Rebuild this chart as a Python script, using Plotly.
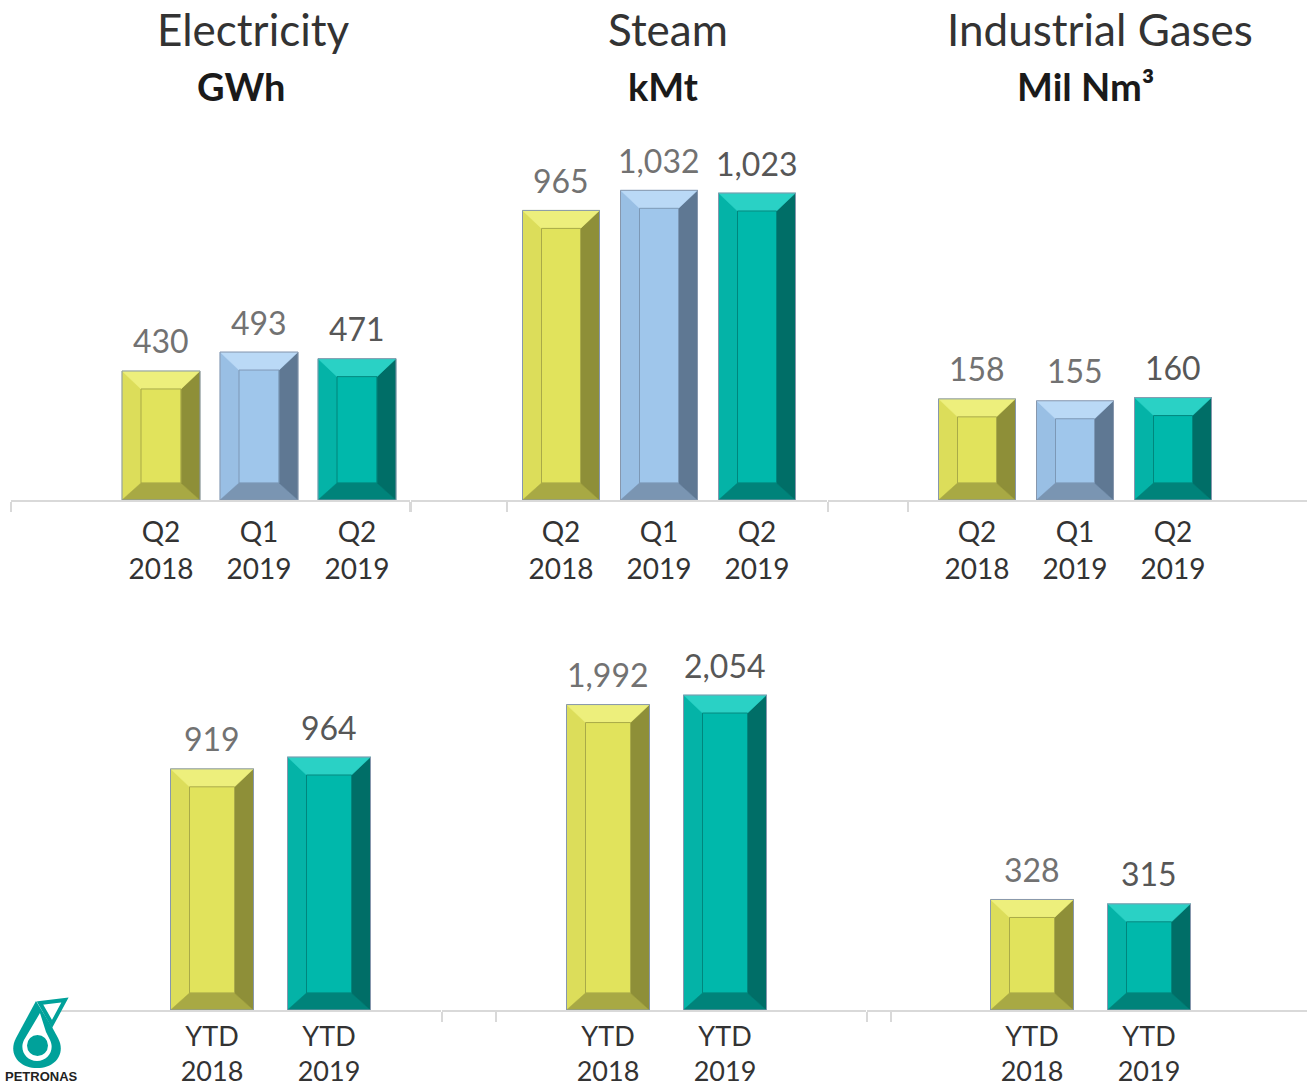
import plotly.graph_objects as go

# ---------------- data ----------------
q_labels = ["Q2<br>2018", "Q1<br>2019", "Q2<br>2019"]
ytd_labels = ["YTD<br>2018", "YTD<br>2019"]

elec_q = [430, 493, 471]
steam_q = [965, 1032, 1023]
gas_q = [158, 155, 160]

elec_ytd = [919, 964]
steam_ytd = [1992, 2054]
gas_ytd = [328, 315]

titles = ["Electricity", "Steam", "Industrial Gases"]
units = ["GWh", "kMt", "Mil Nm³"]

# ---------------- styling ----------------
W, H = 1307, 1089
PAL = {
    'y': dict(face='#e1e35c', top='#edef7c', left='#dcdd5a', right='#8e8f38', bottom='#a8a944', inner='#a9aa48'),
    'b': dict(face='#9fc6eb', top='#bad9f6', left='#99bfe4', right='#5f7893', bottom='#7a95b2', inner='#7c98b6'),
    't': dict(face='#00b8ab', top='#2ad1c5', left='#04b3a7', right='#006e67', bottom='#00837a', inner='#00867d'),
}
q_keys = ['y', 'b', 't']
ytd_keys = ['y', 't']

TOP = dict(base=500, top=130, standoff=7, fsize=28)
BOT = dict(base=1010, top=640, standoff=2, fsize=27)

panels = [
    dict(labels=q_labels, vals=elec_q, keys=q_keys, dom=(11, 410), c0=161, sp=98, bw=78, tk=[11, 410], row=TOP, ymax=1233),
    dict(labels=q_labels, vals=steam_q, keys=q_keys, dom=(411, 827), c0=561, sp=98, bw=77, tk=[411, 507], row=TOP, ymax=1233),
    dict(labels=q_labels, vals=gas_q, keys=q_keys, dom=(828, 1307), c0=977, sp=98, bw=77, tk=[828, 908], row=TOP, ymax=578),
    dict(labels=ytd_labels, vals=elec_ytd, keys=ytd_keys, dom=(45, 441), c0=212, sp=117, bw=83, tk=[], row=BOT, ymax=1410),
    dict(labels=ytd_labels, vals=steam_ytd, keys=ytd_keys, dom=(442, 866), c0=608, sp=117, bw=83, tk=[442, 496], row=BOT, ymax=2413),
    dict(labels=ytd_labels, vals=gas_ytd, keys=ytd_keys, dom=(867, 1307), c0=1032, sp=117, bw=83, tk=[867, 891], row=BOT, ymax=1098),
]

fig = go.Figure()
annotations = []
BEV_X = 19
BEV_T = 18
BEV_B = 17

for k, p in enumerate(panels, start=1):
    xa = 'x' if k == 1 else f'x{k}'
    ya = 'y' if k == 1 else f'y{k}'
    n = len(p['vals'])
    xs = list(range(n))
    vals = p['vals']
    hpx = p['row']['base'] - p['row']['top']
    bx = BEV_X / p['sp']
    bt = BEV_T * p['ymax'] / hpx
    bb = BEV_B * p['ymax'] / hpx
    wb = p['bw'] / p['sp']
    common = dict(xaxis=xa, yaxis=ya, showlegend=False, hoverinfo='skip')

    # main bars (face colour)
    fig.add_trace(go.Bar(x=xs, y=vals, width=[wb] * n, offset=[-wb / 2] * n,
                         marker=dict(color=[PAL[c]['face'] for c in p['keys']], line=dict(width=0)),
                         **common))

    # bevel facets derived from each bar's value
    for i, v in enumerate(vals):
        pal = PAL[p['keys'][i]]
        L, R, B, T = i - wb / 2, i + wb / 2, 0, v
        iL, iR, iB, iT = L + bx, R - bx, B + bb, T - bt
        facets = {
            'left': ([L, L, iL, iL], [B, T, iT, iB]),
            'bottom': ([L, R, iR, iL], [B, B, iB, iB]),
            'right': ([R, R, iR, iR], [B, T, iT, iB]),
            'top': ([L, R, iR, iL], [T, T, iT, iT]),
        }
        for role, (fx, fy) in facets.items():
            fig.add_trace(go.Scatter(x=fx + [fx[0]], y=fy + [fy[0]], mode='lines', fill='toself',
                                     fillcolor=pal[role], line=dict(width=0.5, color=pal[role]), **common))
        # inner panel outline
        fig.add_trace(go.Scatter(x=[iL, iR, iR, iL, iL], y=[iB, iB, iT, iT, iB], mode='lines',
                                 line=dict(width=1, color=pal['inner']), **common))
        # outer outline
        fig.add_trace(go.Scatter(x=[L, R, R, L, L], y=[B, B, T, T, B], mode='lines',
                                 line=dict(width=1, color='#8797ad'), **common))

    d0, d1 = p['dom']
    ydom = [1 - p['row']['base'] / H, 1 - p['row']['top'] / H]
    fig.update_layout(**{
        ('xaxis' if k == 1 else f'xaxis{k}'): dict(
            domain=[d0 / W, d1 / W],
            range=[(d0 - p['c0']) / p['sp'], (d1 - p['c0']) / p['sp']],
            anchor=ya, tickvals=xs, ticktext=p['labels'], ticks='',
            showline=True, linecolor='#d9d9d9', linewidth=1.5,
            showgrid=False, zeroline=False, fixedrange=True, automargin=False,
            tickfont=dict(family='Lato', size=p['row']['fsize'], color='#333333'),
            ticklabelstandoff=p['row']['standoff'],
            minor=dict(tickvals=[(t - p['c0']) / p['sp'] for t in p['tk']], ticks='outside',
                       ticklen=10, tickcolor='#d9d9d9', tickwidth=1.5, showgrid=False),
        ),
        ('yaxis' if k == 1 else f'yaxis{k}'): dict(
            domain=ydom, range=[0, p['ymax']], anchor=xa, visible=False, fixedrange=True,
            automargin=False,
        ),
    })

    for i, v in enumerate(vals):
        last = (i == n - 1)
        annotations.append(dict(
            x=i, y=v, xref=xa, yref=ya, text=f"{v:,}", showarrow=False,
            yanchor='middle', xanchor='center', yshift=30,
            font=dict(family='Lato', size=32, color='#575757' if last else '#727272'),
        ))

# titles & units
title_x = [253, 668, 1100]
unit_x = [241, 663, 1085]
for t, tx in zip(titles, title_x):
    annotations.append(dict(x=tx / W, y=1 - 29 / H, xref='paper', yref='paper', text=t, showarrow=False,
                            xanchor='center', yanchor='middle',
                            font=dict(family='Lato', size=44, color='#333333')))
for u, ux in zip(units, unit_x):
    annotations.append(dict(x=ux / W, y=1 - 86 / H, xref='paper', yref='paper', text=f"<b>{u}</b>", showarrow=False,
                            xanchor='center', yanchor='middle',
                            font=dict(family='Lato', size=38, color='#1a1a1a')))

# PETRONAS logo (decorative)
def P(x, y):
    return f"{x / W:.5f},{1 - y / H:.5f}"

TEAL = '#00a19a'
shapes = [
    dict(type='path', xref='paper', yref='paper', layer='above', fillcolor=TEAL, line=dict(width=0),
         path=f"M {P(36,1001)} L {P(16,1038)} C {P(8,1053)} {P(18,1068)} {P(37,1068)} "
              f"C {P(56,1068)} {P(66,1053)} {P(58,1038)} L {P(52,1027)} Z"),
    dict(type='path', xref='paper', yref='paper', layer='above', fillcolor='white', line=dict(width=0),
         path=f"M {P(40,1013)} L {P(24,1040)} C {P(19,1050)} {P(26,1061)} {P(37,1061)} "
              f"C {P(48,1061)} {P(55,1050)} {P(50,1040)} L {P(46,1032)} Z"),
    dict(type='circle', xref='paper', yref='paper', layer='above', fillcolor=TEAL, line=dict(width=0),
         x0=27 / W, x1=48 / W, y0=1 - 1056 / H, y1=1 - 1035 / H),
    dict(type='path', xref='paper', yref='paper', layer='above', fillcolor='white',
         line=dict(color=TEAL, width=4),
         path=f"M {P(40,1003)} L {P(65,1000)} L {P(52,1024)} Z"),
]
annotations.append(dict(x=41 / W, y=1 - 1076 / H, xref='paper', yref='paper', text="<b>PETRONAS</b>",
                        showarrow=False, xanchor='center', yanchor='middle',
                        font=dict(family='Liberation Sans', size=13, color='#222222')))

fig.update_layout(
    width=W, height=H, margin=dict(l=0, r=0, t=0, b=0, autoexpand=False),
    paper_bgcolor='white', plot_bgcolor='rgba(0,0,0,0)',
    barmode='overlay', bargap=0, showlegend=False,
    annotations=annotations, shapes=shapes,
)

fig.write_html("out.html")
